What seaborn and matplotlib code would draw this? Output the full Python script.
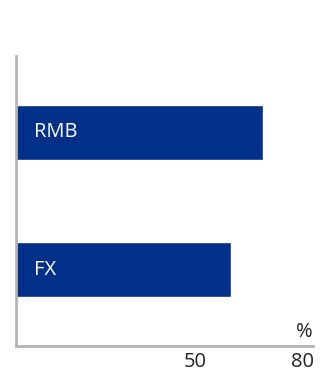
import matplotlib
matplotlib.use("Agg")
import matplotlib.pyplot as plt
import seaborn as sns
import pandas as pd

categories = ["RMB", "FX"]
values = [69, 60]
tick_values = [50, 80]
tick_labels = ["50", "80"]
unit_label = "%"

sns.set_theme(style="white")
plt.rcParams["font.family"] = ["Open Sans", "DejaVu Sans"]

bar_color = "#003087"
spine_color = "#b3b3b3"
text_size = 14.5

df = pd.DataFrame({"category": categories, "value": values})

fig = plt.figure(figsize=(3.29, 3.74), dpi=100)
ax = fig.add_axes([0.0486, 0.0749, 0.9027, 0.7754])

sns.barplot(data=df, x="value", y="category", orient="h", color=bar_color,
            saturation=1, width=0.4, ax=ax)

ax.set_xlim(0, 83)
ax.set_ylim(1.558, -0.558)
ax.set_xlabel("")
ax.set_ylabel("")
ax.set_yticks([])
ax.set_xticks(tick_values)
ax.set_xticklabels(tick_labels, fontsize=text_size, color="#222222")
ax.tick_params(axis="x", length=0, pad=4)

for side in ["top", "right"]:
    ax.spines[side].set_visible(False)
for side in ["left", "bottom"]:
    ax.spines[side].set_color(spine_color)
    ax.spines[side].set_linewidth(2)

# Category names written inside each bar
for i, name in enumerate(categories):
    ax.annotate(name, xy=(0, i), xytext=(13, 0), textcoords="offset points",
                ha="left", va="center", color="white", fontsize=text_size)

# Unit marker above the right end of the value axis
ax.annotate(unit_label, xy=(1.0, 0.0), xycoords="axes fraction",
            xytext=(-6.5, 3), textcoords="offset points",
            ha="center", va="bottom", fontsize=text_size, color="#222222")

fig.savefig("out.png", dpi=100)
